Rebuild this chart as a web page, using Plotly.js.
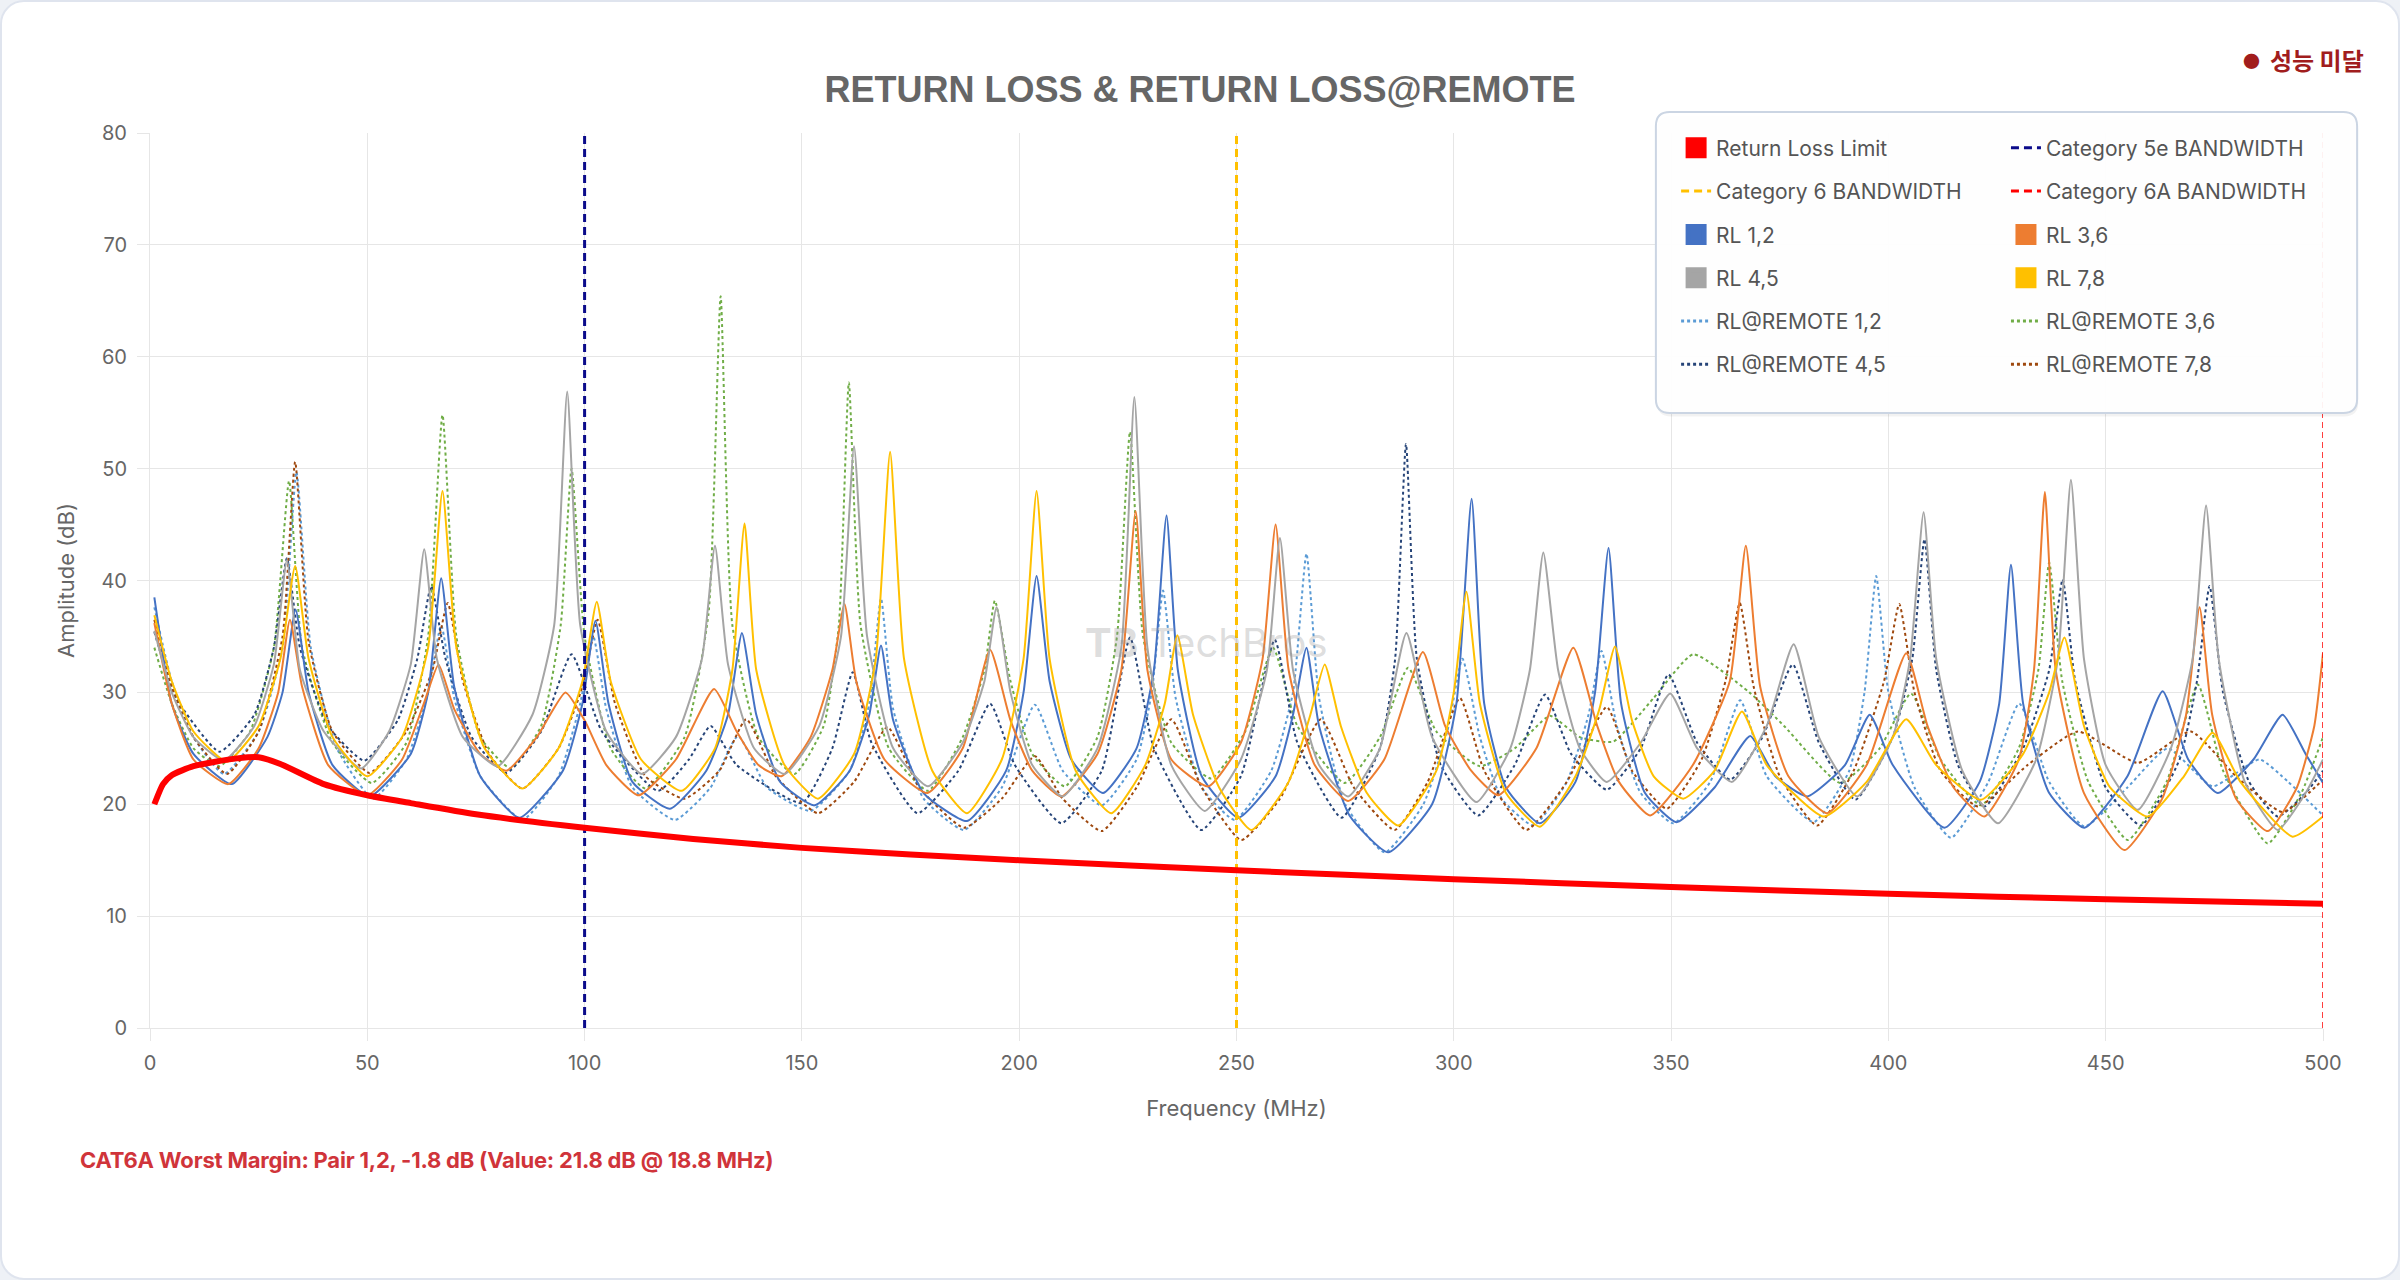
<!DOCTYPE html>
<html>
<head>
<meta charset="utf-8">
<script src="https://cdn.plot.ly/plotly-3.0.1.min.js"></script>
<style>
  html, body { margin: 0; padding: 0; background: #eef1f6; overflow: hidden; }
  #card {
    position: relative; width: 2400px; height: 1280px; box-sizing: border-box;
    background: #fff; border: 2px solid #dfe4ee; border-radius: 24px; overflow: hidden;
  }
  #chart { position: absolute; left: -2px; top: -2px; width: 2400px; height: 1280px; }
  #badge {
    position: absolute; left: 2241px; top: 44px; font-family: "Noto Sans CJK KR", sans-serif;
    font-weight: 700; font-size: 24px; color: #a11d1d; line-height: 28px; white-space: nowrap;
  }
  #badge .dot { font-size: 17px; margin-right: 10px; vertical-align: 2px; }
  #note {
    position: absolute; left: 78px; top: 1145px; font-family: Inter, Roboto, sans-serif;
    font-weight: 700; font-size: 22px; color: #d0343a; white-space: nowrap; letter-spacing: -0.2px;
  }
</style>
</head>
<body>
<div id="card">
  <div id="chart"></div>
  <div id="badge"><span class="dot">●</span>성능 미달</div>
  <div id="note">CAT6A Worst Margin: Pair 1,2, -1.8 dB (Value: 21.8 dB @ 18.8 MHz)</div>
</div>
<script>
// [MHz, dB] pairs
const limitPts = [[1,20],[3,21.8],[5,22.6],[10,23.4],[15,23.8],[20,24.1],[25,24.2],[30,23.6],[40,21.8],[50,20.8],[60,20.1],[75,19.1],[100,17.9],[125,16.9],[150,16.1],[175,15.5],[200,15],[250,14.1],[300,13.3],[350,12.6],[400,12],[450,11.5],[500,11.1]];

const bandwidthFreq = [100, 250, 500];
const bandwidthNames = ["Category 5e BANDWIDTH", "Category 6 BANDWIDTH", "Category 6A BANDWIDTH"];

const rl12 = [[1,38.5],[5,29],[10,24.5],[18.8,21.8],[27,26],[30.5,30],[33.5,37.4],[36.5,30],[42,23.5],[50.5,20.7],[60,24.5],[64,30],[67,40.2],[70,30.5],[76,22.5],[85,18.8],[95,23],[99.5,29],[102.5,36.4],[105.5,29],[111,22],[119.6,19.6],[128,23],[133,28],[136.2,35.3],[139.5,28],[145,22],[152.9,19.9],[161,23],[165.5,28],[168.2,34.2],[171,27.5],[178,21],[188,18.5],[197,23],[201,30],[204,40.4],[207,31],[212,24],[219.3,21],[227,25],[231,32],[233.9,45.8],[236.5,32],[242,22.5],[250.4,18.8],[259,22.5],[263,28],[266.1,34],[269,27],[276,19],[284.9,15.7],[295,20],[300.6,29],[304.1,47.3],[307,29],[312,21.5],[319.8,18.3],[328,22],[332.5,30],[335.6,42.9],[338.5,29],[344,21],[351.3,18.4],[360,21.5],[368.2,26.1],[374,22.5],[381.3,20.7],[390,23.5],[395.7,28],[401,23.5],[412.9,17.9],[421,22],[425.5,29],[428.2,41.4],[431,29],[437,21],[445.1,17.9],[455,22.5],[463.1,30.1],[469,24],[475.8,21],[484,24],[490.7,28],[496,24.5],[500,21.9]];

const rl36 = [[1,36.2],[5,29],[10,24],[18,21.8],[25,25],[29.5,30],[32.2,36.5],[35,30.5],[41,23.5],[50,20.8],[58,24],[63,29],[66.4,32.5],[70,28.5],[76,24.5],[82,23],[89,26],[95.6,30],[100,27.5],[105,23.5],[112.4,20.8],[121,24],[129.8,30.3],[135,26.5],[140,23.5],[145.3,22.5],[152,26],[157,32],[159.8,37.9],[162.5,31],[169,24],[178.9,21],[187,25],[193.3,33.8],[198,27.5],[203,23],[209.7,20.7],[218,24.5],[223.5,32],[226.8,46.2],[229.5,32],[235,24],[243.5,21.6],[251,25.5],[256,33],[259,45],[262,32],[268,23.5],[275.7,20.3],[284,24],[292.9,33.6],[298,27],[304,23],[310.2,20.8],[319,25],[327.5,34],[333,27],[338,22],[345.2,19],[355,23.5],[363.5,31],[367.2,43.1],[370.5,30.5],[377,22.5],[385.9,19.2],[395,23.5],[404.1,33.5],[409,27],[415,21.5],[422.1,18.9],[430,24],[433.5,32],[436,47.9],[438.5,32],[445,21],[454.3,15.9],[463,20.5],[468.5,28],[471.6,37.6],[474.5,28],[480,20.5],[487.3,17.6],[494,21.5],[498,27],[500,33.5]];

const rl45 = [[1,35.5],[5,30],[10,26],[17,23.9],[24,27],[28.5,32.5],[31.5,41.8],[34.5,32],[40,26.5],[48.6,23.2],[55,26.5],[60,32.5],[63.1,42.8],[66,33],[72,26],[80,23.4],[88,28],[93,36],[96,56.9],[99,36],[105,26.5],[113.2,22.7],[121,26],[127,33],[130,43.1],[133,32.5],[139,25],[146,22.7],[154,27],[159,35],[162,52],[165,35],[171,25],[179,21.6],[187,25.5],[192,31],[194.8,37.6],[198,30],[203,23.5],[210,20.7],[218,25],[223.5,34],[226.5,56.4],[229.5,34],[235,23.5],[242.7,19.4],[251,24],[257,32],[260,43.8],[263,32],[269,23.5],[275.7,20.7],[283,25],[289.1,35.3],[295,26],[305.2,20.2],[313,25],[317.5,32],[320.6,42.5],[324,32],[329,25],[335.2,22],[343,25.5],[349.8,29.9],[356,25],[364,22],[372,27],[378.2,34.3],[384,26],[392.8,20.7],[401,26],[405,33],[408.1,46.1],[411,33],[417,23],[425.2,18.3],[434,24],[439,33],[442,49],[445,33],[450,23.5],[457.4,19.5],[465,25],[470,33],[473.1,46.7],[476,33],[482,22],[489.6,17.7],[496,21],[500,24]];

const rl78 = [[1,36.9],[5,31],[10,26.5],[17.7,23.8],[25,27],[30,33],[33.4,41.3],[36.5,33],[42,26],[50,22.5],[58,26],[64,34],[67.3,48],[70.5,34],[77,25],[85.7,21.4],[94,25],[99.5,31],[102.8,38.1],[106,31],[113,24],[122.3,21.2],[130,25],[134,32],[136.8,45.1],[139.5,32],[146,23.5],[153.7,20.5],[162,24.5],[167,33],[170.3,51.5],[173.5,33],[180,23],[188,19.2],[196,24],[201,33],[204,48],[207,33],[213,23],[221.2,19.2],[229,23.5],[233.5,29],[236.4,35.1],[240,28],[246,21.5],[253.4,17.7],[262,22],[267,28],[270.3,32.5],[274,27],[280,21],[287.2,18.1],[296,23],[300,30],[302.9,39],[306,29],[312,21],[319.8,18],[328,22.5],[333.5,28.5],[337.1,34.1],[341,27.5],[346,22.5],[352.8,20.5],[360,23],[366.3,28.3],[372,23.5],[385.1,18.9],[395,22],[404.1,27.6],[411,23.5],[421.3,20.4],[431,24.5],[437,30],[440.5,34.9],[445,27],[451,21.5],[459.7,18.9],[468,22.5],[474.6,26.4],[481,22],[493,17.1],[500,18.9]];

const remote12 = [[1,37.6],[5,31],[10,26],[17,22.7],[25,26.5],[30.5,34],[33.7,49.7],[37,34],[43,25],[51.3,20.5],[59,24],[64,30],[67,36],[70,29.5],[76,22.5],[85.7,18.6],[94,22.5],[99,29],[102,35],[105,28.5],[111,21.5],[120.8,18.6],[129,21.5],[135.3,26.1],[142,21.5],[152,19.4],[161,23],[165.5,29],[168.2,38.4],[171,28.5],[178,20.5],[187.3,17.7],[196,21.5],[203.6,28.9],[210,23],[219,19.9],[227,24],[230.5,30],[233.1,39.1],[236,29.5],[242,21.5],[249.6,18.6],[258,23],[263,30],[266.1,42.4],[269,29.5],[275,20],[284.1,15.7],[293,20],[298.5,26.5],[302,33],[306,26],[311,20.5],[318.3,18.1],[326,22],[331,28],[334,33.7],[337.5,27],[343,21],[350.5,18.3],[359,22],[365.9,29.3],[372,22.5],[382.8,18.4],[391,23],[394.5,30],[397.2,40.4],[400,30],[406,21.5],[414.4,17],[423,22],[430.1,29],[437,22],[445.1,18],[455,21.5],[464.3,25],[474.6,21.6],[485.4,24],[492,22],[500,19]];

const remote36 = [[1,34],[5,29],[10,25],[16,23.4],[23,26.5],[28.5,34],[32,48.9],[35,34],[42,25.5],[51,21.9],[59,25.5],[64,35],[67.3,54.8],[70.5,35],[76,26],[83,23.2],[90,27],[94.5,36],[97,50],[100,35],[106,25],[114,21.4],[123,26],[128.5,37],[131.3,65.4],[134,36],[140,26],[148.3,22.7],[155,27],[158.5,36],[160.8,57.7],[163.5,36],[170,25],[179,21.2],[187,26],[192,32],[194.4,38.2],[198,31],[203,24.5],[210.5,21.6],[218,26],[222.5,35],[225.5,53.3],[228.5,35],[235,25.5],[244.2,22.3],[252,26.5],[258.4,34],[264,27],[274.9,21.9],[283,26],[289.5,32.2],[296,26.5],[306,23.4],[314,25],[322.1,27.9],[329,26],[336.7,25.6],[346,29.5],[355.1,33.4],[368,30],[376,27],[388.9,21.9],[398,25],[405.2,29.9],[412,24],[421.3,19.9],[430,25],[434.5,32],[437,41.6],[440,31],[446,22],[455.1,16.8],[464,22],[471.2,30.7],[477,23],[487.3,16.5],[495,21],[500,26]];

const remote45 = [[1,35.4],[6,29.5],[16,24.7],[24,28],[28.5,34],[31.5,42],[34.5,34],[41,27],[49.3,23.9],[57,27.5],[61.5,33],[64.7,39.5],[68,33],[74,26],[82,22.8],[90,26.5],[97,33.4],[104,26.5],[116.9,21.2],[124,24],[129,27],[135,23.5],[150,20.1],[157,25],[161.7,31.8],[166,25.5],[176.6,19.2],[186,23],[193.3,29],[199,23.5],[209.7,18.3],[219,23],[225.5,34.9],[231,25],[241.9,17.7],[251,22.5],[258.8,34.7],[264,25.5],[274.2,18.8],[283,25],[286.5,33],[289,52.2],[291.5,33],[297,23.5],[305.6,19],[314,23.5],[321,29.8],[327,24.5],[335.2,21.3],[343,25],[349.4,31.6],[356,25.5],[363.6,22.2],[371,26],[378,32.5],[384,25.5],[392.4,20.4],[401,26],[405.5,33],[408.3,43.7],[411,32],[416,23.5],[422.1,19.8],[431,25],[437,32],[440.1,40.1],[443,31],[450,21.5],[458.1,18.1],[467,24],[471,31],[473.9,39.5],[477,30],[483,22],[489.6,18.9],[496,21],[500,23]];

const remote78 = [[1,36.5],[5,30.5],[10,26],[17.7,22.7],[25,26.5],[30.5,35],[33.4,50.6],[36.5,34.5],[42,26.5],[50.5,22.8],[59,26.5],[65,32],[68.5,38],[72,31],[78,24.5],[85.7,21.4],[94,25],[99.5,30.5],[103,36.5],[107,29],[114,22.5],[123,20.5],[131,23],[137.2,27.6],[144,22.5],[153.7,19.2],[162,22],[169.7,26.9],[177,21.5],[187.3,17.9],[196,20.5],[203.6,24.3],[210,20.5],[219,17.6],[227,21.5],[235,27.6],[242,21.5],[251.1,16.8],[260,20.5],[269.4,27.6],[277,21.5],[286.4,17.7],[294,22],[301.4,29.5],[307,23],[316.7,17.7],[326,22],[335.2,28.7],[341,23],[349,19.6],[357,24],[362.5,31],[365.8,38],[369,30.5],[375,22.5],[383.6,18.1],[392,23],[399,31],[402.5,37.9],[406,30],[412,23],[420.6,19.8],[432,23.5],[443.6,26.5],[457.4,23.7],[469.6,26.5],[480,22.5],[490.7,19.3],[500,22.2]];

const yRange = [0, 80];
const xRange = [0, 500];

// series definitions: name, data, colour, dash, which legend column
const series = [
  { name: "RL@REMOTE 1,2", pts: remote12, color: "#5B9BD5", dash: "dot", col: "legend" },
  { name: "RL@REMOTE 3,6", pts: remote36, color: "#70AD47", dash: "dot", col: "legend2" },
  { name: "RL@REMOTE 4,5", pts: remote45, color: "#264478", dash: "dot", col: "legend" },
  { name: "RL@REMOTE 7,8", pts: remote78, color: "#9E480E", dash: "dot", col: "legend2" },
  { name: "RL 1,2", pts: rl12, color: "#4472C4", dash: "solid", col: "legend" },
  { name: "RL 3,6", pts: rl36, color: "#ED7D31", dash: "solid", col: "legend2" },
  { name: "RL 4,5", pts: rl45, color: "#A5A5A5", dash: "solid", col: "legend" },
  { name: "RL 7,8", pts: rl78, color: "#FFC000", dash: "solid", col: "legend2" },
];
const bandwidthColors = ["#0b0b8a", "#FFC000", "#FF0000"];

let data = [];

series.forEach((s) => {
  data.push({
    type: "scatter", mode: "lines", name: s.name, legendgroup: s.name, showlegend: false,
    x: s.pts.map((p) => p[0]), y: s.pts.map((p) => p[1]),
    line: { color: s.color, width: 2, dash: s.dash, shape: "spline", smoothing: 0.5 },
  });
});

bandwidthFreq.forEach((f, i) => {
  data.push({
    type: "scatter", mode: "lines", name: bandwidthNames[i], legendgroup: bandwidthNames[i], showlegend: false,
    x: [f, f], y: yRange,
    line: { color: bandwidthColors[i], width: i == 2 ? 1.5 : 3, dash: i == 2 ? "6px,4px" : "8px,5px" },
  });
});

data.push({
  type: "scatter", mode: "lines", name: "Return Loss Limit", legendgroup: "Return Loss Limit", showlegend: false,
  x: limitPts.map((p) => p[0]), y: limitPts.map((p) => p[1]),
  line: { color: "#FF0000", width: 6, shape: "spline", smoothing: 0.6 },
});

// legend entries (Chart.js style: boxes for solid series, dashes for the others)
function legendBox(name, color, col) {
  return {
    type: "scatter", mode: "markers", name: name, legendgroup: name, legend: col,
    x: [null], y: [null],
    marker: { symbol: "square", size: 16, color: color, line: { color: color, width: 6 } },
  };
}
function legendLine(name, color, dash, width, col) {
  return {
    type: "scatter", mode: "lines", name: name, legendgroup: name, legend: col,
    x: [null], y: [null], line: { color: color, dash: dash, width: width },
  };
}
const byName = {};
series.forEach((s) => (byName[s.name] = s));

// left column
data.push(legendBox("Return Loss Limit", "#FF0000", "legend"));
data.push(legendLine(bandwidthNames[1], bandwidthColors[1], "8px,5px", 3, "legend"));
data.push(legendBox("RL 1,2", byName["RL 1,2"].color, "legend"));
data.push(legendBox("RL 4,5", byName["RL 4,5"].color, "legend"));
data.push(legendLine("RL@REMOTE 1,2", byName["RL@REMOTE 1,2"].color, "dot", 3, "legend"));
data.push(legendLine("RL@REMOTE 4,5", byName["RL@REMOTE 4,5"].color, "dot", 3, "legend"));
// right column
data.push(legendLine(bandwidthNames[0], bandwidthColors[0], "8px,5px", 3, "legend2"));
data.push(legendLine(bandwidthNames[2], bandwidthColors[2], "8px,5px", 3, "legend2"));
data.push(legendBox("RL 3,6", byName["RL 3,6"].color, "legend2"));
data.push(legendBox("RL 7,8", byName["RL 7,8"].color, "legend2"));
data.push(legendLine("RL@REMOTE 3,6", byName["RL@REMOTE 3,6"].color, "dot", 3, "legend2"));
data.push(legendLine("RL@REMOTE 7,8", byName["RL@REMOTE 7,8"].color, "dot", 3, "legend2"));

// rounded legend panel
const bx0 = 0.693, bx1 = 1.0157, by0 = 0.6872, by1 = 1.0235, rx = 0.0064, ry = 0.0156;
function roundedPath(x0, y0, x1, y1) {
  return `M${x0 + rx},${y1} L${x1 - rx},${y1} Q${x1},${y1} ${x1},${y1 - ry} L${x1},${y0 + ry} Q${x1},${y0} ${x1 - rx},${y0} ` +
    `L${x0 + rx},${y0} Q${x0},${y0} ${x0},${y0 + ry} L${x0},${y1 - ry} Q${x0},${y1} ${x0 + rx},${y1} Z`;
}

const legendCommon = {
  xref: "paper", yref: "paper", xanchor: "left", yanchor: "top", y: 1.006,
  bgcolor: "rgba(0,0,0,0)", borderwidth: 0, font: { size: 21, color: "#555" },
  traceorder: "grouped", tracegroupgap: 13, itemclick: false, itemdoubleclick: false,
};

const axisCommon = {
  showgrid: true, gridcolor: "#e6e6e6", gridwidth: 1, zeroline: false,
  showline: true, linecolor: "#e6e6e6", linewidth: 1,
  ticks: "outside", ticklen: 12, tickcolor: "#e6e6e6",
  tickfont: { size: 20, color: "#666" },
};

const layout = {
  width: 2400, height: 1280,
  paper_bgcolor: "rgba(0,0,0,0)", plot_bgcolor: "rgba(0,0,0,0)",
  margin: { l: 150, r: 77, t: 133, b: 252 },
  font: { family: "Inter, Roboto, sans-serif", size: 20, color: "#666" },
  title: {
    text: "<b>RETURN LOSS & RETURN LOSS@REMOTE</b>",
    x: 0.5, xref: "container", y: 1 - 89 / 1280, yref: "container", yanchor: "middle",
    font: { family: '"Liberation Sans", Arial, sans-serif', size: 36, color: "#666" },
  },
  xaxis: Object.assign({}, axisCommon, {
    range: xRange, tick0: 0, dtick: 50, ticklabelstandoff: 5,
    title: { text: "Frequency (MHz)", font: { size: 22, color: "#666" }, standoff: 26 },
  }),
  yaxis: Object.assign({}, axisCommon, {
    range: yRange, tick0: 0, dtick: 10, ticklabelstandoff: 6,
    title: { text: "Amplitude (dB)", font: { size: 22, color: "#666" }, standoff: 20 },
  }),
  showlegend: true,
  legend: Object.assign({}, legendCommon, { x: 0.7023 }),
  legend2: Object.assign({}, legendCommon, { x: 0.8541 }),
  shapes: [
    {
      type: "path", xref: "paper", yref: "paper", layer: "above",
      path: roundedPath(bx0 + 0.0005, by0 - 0.004, bx1 + 0.0005, by1 - 0.004),
      fillcolor: "rgba(0,0,0,0.05)", line: { width: 0 },
    },
    {
      type: "path", xref: "paper", yref: "paper", layer: "above",
      path: roundedPath(bx0, by0, bx1, by1),
      fillcolor: "rgba(255,255,255,0.93)", line: { color: "#cbd5e3", width: 2 },
    },
  ],
  annotations: [
    {
      x: 243, y: 34.5, xref: "x", yref: "y", showarrow: false,
      text: "<b>TB</b> TechBros",
      font: { size: 40, color: "rgba(150,150,150,0.33)", family: "Inter, sans-serif" },
    },
  ],
};

Plotly.newPlot("chart", data, layout, { staticPlot: true, displayModeBar: false });
</script>
</body>
</html>
